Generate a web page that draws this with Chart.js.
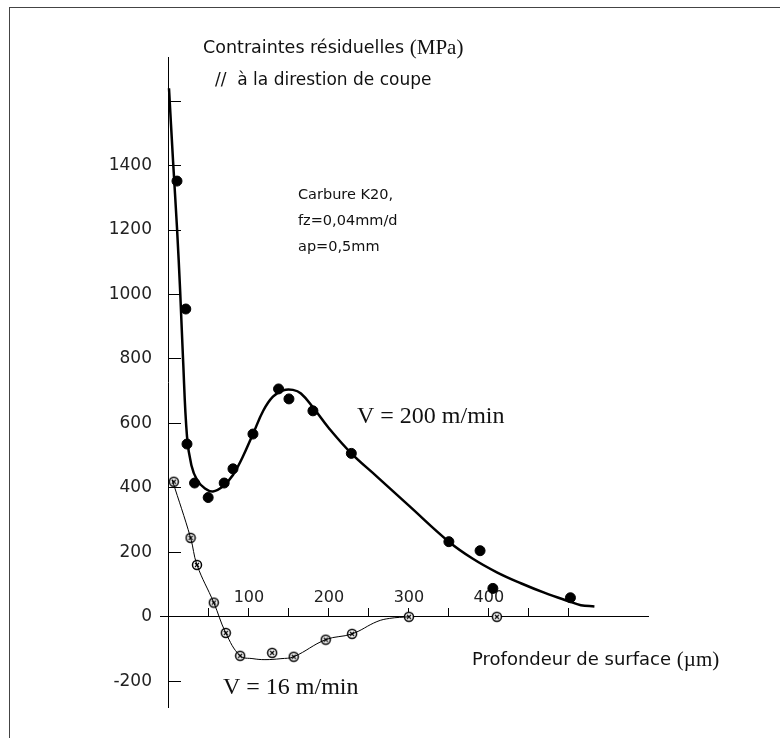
<!DOCTYPE html>
<html>
<head>
<meta charset="utf-8">
<script src="https://cdn.jsdelivr.net/npm/chart.js@4/dist/chart.umd.min.js"></script>
<style>
  body { margin: 0; background: #fff; }
  #wrap { position: relative; width: 780px; height: 738px; }
  #frame { position: absolute; left: 9px; top: 7px; right: 0; bottom: 0;
           border-left: 1px solid #444; border-top: 1px solid #444; }
  #myChart { position: absolute; left: 0; top: 0; }
</style>
</head>
<body>
<div id="wrap">
  <div id="frame"></div>
  <canvas id="myChart" width="780" height="738"></canvas>
</div>
<script>
// V = 200 m/min : mesures
const v200X = [10, 21, 22.5, 32, 49, 69, 80, 105, 137, 150, 180, 228, 350, 389, 405, 502];
const v200Y = [1352, 955, 536, 415, 370, 415, 459, 567, 707, 676, 639, 507, 233, 205, 88, 59];
// V = 200 m/min : courbe lissée
const fit200X = [0, 5, 10, 14, 17.5, 22.5, 28, 35, 45, 55, 67.5, 80, 92, 105, 118, 130, 143, 155, 165, 180, 200, 228, 260, 300, 350, 380, 410, 440, 470, 500, 515, 532];
const fit200Y = [1640, 1417, 1207, 1008, 803, 560, 470, 425, 398, 389, 405, 440, 495, 567, 640, 683, 703, 704, 693, 650, 585, 507, 435, 345, 233, 180, 138, 104, 74, 48, 36, 32];

// V = 16 m/min : mesures
const v16X = [6, 27, 35, 56, 71, 89, 129, 156, 196, 229, 300, 410];
const v16Y = [419, 245, 161, 44, -50, -121, -112, -124, -71, -53, 0, 0];
// V = 16 m/min : courbe lissée
const fit16X = [4, 27, 35, 56, 71, 89, 105, 120, 140, 156, 196, 229, 260, 276, 300];
const fit16Y = [425, 245, 161, 44, -50, -121, -130, -133, -130, -124, -71, -53, -15, -5, 0];

// graduations
const xTicks = [50, 100, 150, 200, 250, 300, 350, 400, 450, 500];
const xLabels = [100, 200, 300, 400];
const yTicks = [-200, 0, 200, 400, 600, 800, 1000, 1200, 1400, 1600];
const yLabels = [-200, 0, 200, 400, 600, 800, 1000, 1200, 1400];

const pts = (xs, ys) => xs.map((x, i) => ({x: x, y: ys[i]}));

// marqueur rond barré pour V = 16
const mark16 = document.createElement('canvas');
mark16.width = 12; mark16.height = 12;
(function () {
  const c = mark16.getContext('2d');
  c.fillStyle = '#fff';
  c.strokeStyle = '#000';
  c.lineWidth = 1.5;
  c.beginPath(); c.arc(6, 6, 4.5, 0, Math.PI * 2); c.fill(); c.stroke();
  c.lineWidth = 1.2;
  c.beginPath();
  c.moveTo(4, 4); c.lineTo(8, 8);
  c.moveTo(8, 4); c.lineTo(4, 8);
  c.stroke();
})();

const textes = {
  id: 'textes',
  afterDraw(chart) {
    const ctx = chart.ctx;
    ctx.save();
    ctx.fillStyle = '#111';
    ctx.textBaseline = 'middle';
    let w;

    ctx.font = '17.5px "DejaVu Sans"';
    ctx.fillText('Contraintes résiduelles ', 203, 48);
    w = ctx.measureText('Contraintes résiduelles ').width;
    ctx.font = '21px "Liberation Serif"';
    ctx.fillText('(MPa)', 203 + w, 48);

    ctx.font = '17px "DejaVu Sans"';
    ctx.fillText('//  à la direstion de coupe', 215, 81);

    ctx.font = '14.5px "DejaVu Sans"';
    ctx.fillText('Carbure K20,', 298, 195);
    ctx.fillText('fz=0,04mm/d', 298, 221);
    ctx.fillText('ap=0,5mm', 298, 247);

    ctx.font = '24px "Liberation Serif"';
    ctx.fillText('V = 200 m/min', 357, 417);
    ctx.fillText('V = 16 m/min', 223, 688);

    ctx.font = '18px "DejaVu Sans"';
    ctx.fillText('Profondeur de surface ', 472, 660);
    w = ctx.measureText('Profondeur de surface ').width;
    ctx.font = '21px "Liberation Serif"';
    ctx.fillText('(µm)', 472 + w, 660);
    ctx.restore();
  }
};

const tickFont = {family: 'DejaVu Sans', size: 16};

new Chart(document.getElementById('myChart'), {
  type: 'scatter',
  data: {
    datasets: [
      {
        data: pts(fit200X, fit200Y),
        showLine: true,
        tension: 0.4,
        borderColor: '#000',
        borderWidth: 2.5,
        pointRadius: 0
      },
      {
        data: pts(v200X, v200Y),
        pointRadius: 5,
        pointBackgroundColor: '#000',
        pointBorderColor: '#000',
        pointBorderWidth: 1
      },
      {
        data: pts(fit16X, fit16Y),
        showLine: true,
        tension: 0.4,
        borderColor: '#000',
        borderWidth: 1,
        pointRadius: 0
      },
      {
        data: pts(v16X, v16Y),
        pointStyle: mark16,
        pointRadius: 5
      }
    ]
  },
  options: {
    responsive: false,
    animation: false,
    events: [],
    layout: {padding: {left: 0, top: 57, right: 132, bottom: 31}},
    plugins: {legend: {display: false}, tooltip: {enabled: false}},
    scales: {
      x: {
        type: 'linear',
        min: -11.25,
        max: 599,
        position: {y: 0},
        border: {color: '#000', width: 1},
        grid: {drawOnChartArea: false, drawTicks: true, tickLength: -9, color: '#000'},
        ticks: {
          padding: -20,
          autoSkip: false,
          maxRotation: 0,
          font: tickFont,
          color: '#222',
          callback: v => xLabels.includes(v) ? String(v) : ''
        },
        afterBuildTicks: s => { s.ticks = xTicks.map(v => ({value: v})); }
      },
      y: {
        type: 'linear',
        min: -280,
        max: 1737,
        position: {x: 0},
        border: {color: '#000', width: 1},
        grid: {drawOnChartArea: false, drawTicks: true, tickLength: -13, color: '#000'},
        ticks: {display: false},
        afterBuildTicks: s => { s.ticks = yTicks.map(v => ({value: v})); }
      },
      yLab: {
        type: 'linear',
        axis: 'y',
        min: -280,
        max: 1737,
        position: 'left',
        border: {display: false},
        grid: {display: false, drawTicks: false},
        ticks: {
          padding: 8,
          font: {family: 'DejaVu Sans', size: 17},
          color: '#222',
          callback: v => yLabels.includes(v) ? String(v) : ''
        },
        afterBuildTicks: s => { s.ticks = yTicks.map(v => ({value: v})); },
        afterFit: s => { s.width = 160; }
      }
    }
  },
  plugins: [textes]
});
</script>
</body>
</html>
